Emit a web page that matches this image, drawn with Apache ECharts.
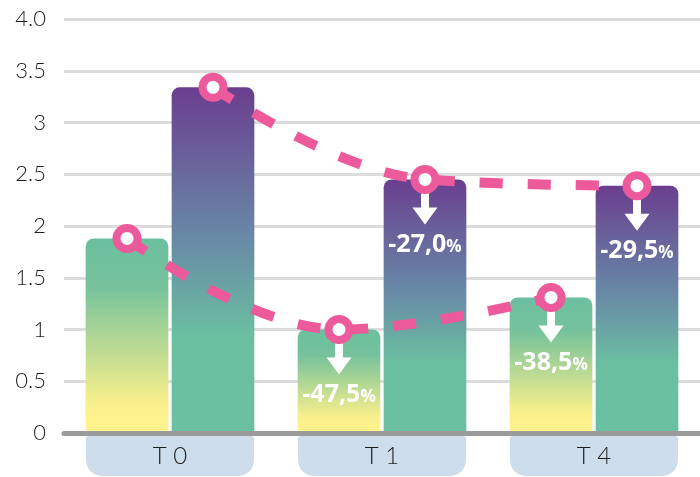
<!DOCTYPE html>
<html>
<head>
<meta charset="utf-8">
<script src="https://cdn.jsdelivr.net/npm/echarts@6/dist/echarts.min.js"></script>
<style>
html,body{margin:0;padding:0;background:#fff;}
#chart{width:700px;height:477px;}
</style>
</head>
<body>
<div id="chart"></div>
<script>
const categories = ['T 0', 'T 1', 'T 4'];
const yTickLabels = ['0', '0.5', '1', '1.5', '2', '2.5', '3', '3.5', '4.0'];
const greenValues = [1.88, 1.0, 1.31];
const purpleValues = [3.34, 2.45, 2.39];
const greenChange = ['', '-47,5%', '-38,5%'];
const purpleChange = ['', '-27,0%', '-29,5%'];

const PINK = '#EC5A9C';
const BAR_W = 0.39, BAR_GAP = 0.04;
const half = BAR_W * (1 + BAR_GAP) / 2;

const greenGrad = new echarts.graphic.LinearGradient(0, 0, 0, 1, [
  {offset: 0, color: '#6BBF9F'},
  {offset: 0.25, color: '#76C29C'},
  {offset: 0.85, color: '#FAF08B'},
  {offset: 1, color: '#FFF38C'}
]);
const purpleGrad = new echarts.graphic.LinearGradient(0, 0, 0, 1, [
  {offset: 0, color: '#6A3E8F'},
  {offset: 0.42, color: '#6886A6'},
  {offset: 0.72, color: '#6BBFA1'},
  {offset: 1, color: '#6BC0A1'}
]);

function linePts(vals, sign) {
  return vals.map((v, i) => [i + sign * half, v]);
}
function arrowPts(vals, labels, sign) {
  return vals.map((v, i) => labels[i]
    ? {value: [i + sign * half, v], pct: labels[i]}
    : {value: [i + sign * half, v], pct: '', symbol: 'none', label: {show: false}});
}
const ARROW = 'path://M8.5,0 L16.5,0 L16.5,15 L25,15 L12.5,32 L0,15 L8.5,15 Z';

function arrowSeries(vals, labels, sign) {
  return {
    type: 'line', xAxisIndex: 1, z: 4,
    symbol: ARROW, symbolSize: [25, 32], symbolOffset: [0, 29], showSymbol: true,
    lineStyle: {width: 0, opacity: 0},
    itemStyle: {color: '#fff'},
    silent: true,
    label: {
      show: true, position: 'bottom', distance: 8,
      formatter: p => p.data.pct ? '{n|' + p.data.pct.replace('%', '') + '}{p|%}' : '',
      rich: {
        n: {fontFamily: 'Open Sans', fontWeight: 'bold', fontSize: 25, color: '#fff'},
        p: {fontFamily: 'Open Sans', fontWeight: 'bold', fontSize: 17, color: '#fff', padding: [4, 0, 0, 0]}
      }
    },
    data: arrowPts(vals, labels, sign)
  };
}
function lineSeries(vals, sign) {
  return {
    type: 'line', xAxisIndex: 1, z: 5, smooth: 0.4,
    symbol: 'circle', symbolSize: 21, showSymbol: true,
    itemStyle: {color: '#fff', borderColor: PINK, borderWidth: 8},
    lineStyle: {color: PINK, width: 10, type: [23, 25]},
    silent: true,
    data: linePts(vals, sign)
  };
}

const chart = echarts.init(document.getElementById('chart'), null, {renderer: 'canvas'});
chart.setOption({
  backgroundColor: '#fff',
  animation: false,
  grid: {left: 64, right: -5, top: 19, bottom: 44},
  xAxis: [{
    type: 'category', data: categories, z: 10,
    axisTick: {show: false},
    axisLine: {lineStyle: {color: '#9B9B9B', width: 5}},
    axisLabel: {
      interval: 0, margin: 3,
      color: '#1d1d1b', fontFamily: 'Lato', fontWeight: 300, fontSize: 24,
      backgroundColor: '#CDDDEB', width: 168, height: 40, lineHeight: 40,
      align: 'center', borderRadius: [3, 3, 16, 16]
    }
  }, {
    type: 'value', min: -0.5, max: 2.5, show: false
  }],
  yAxis: {
    type: 'value', min: 0, max: 4, interval: 0.5,
    axisLine: {show: false}, axisTick: {show: false},
    splitLine: {lineStyle: {color: '#DCDCDC', width: 3}},
    axisLabel: {
      margin: 18, color: '#1d1d1b', fontFamily: 'Lato', fontWeight: 300, fontSize: 22,
      formatter: v => yTickLabels[Math.round(v / 0.5)]
    }
  },
  series: [
    {type: 'bar', name: 'A', data: greenValues, barWidth: (BAR_W * 100) + '%', barGap: (BAR_GAP * 100) + '%',
     itemStyle: {color: greenGrad, borderRadius: [8, 8, 0, 0]}, silent: true},
    {type: 'bar', name: 'B', data: purpleValues, barWidth: (BAR_W * 100) + '%', barGap: (BAR_GAP * 100) + '%',
     itemStyle: {color: purpleGrad, borderRadius: [8, 8, 0, 0]}, silent: true},
    arrowSeries(greenValues, greenChange, -1),
    arrowSeries(purpleValues, purpleChange, 1),
    lineSeries(greenValues, -1),
    lineSeries(purpleValues, 1)
  ]
});
</script>
</body>
</html>
